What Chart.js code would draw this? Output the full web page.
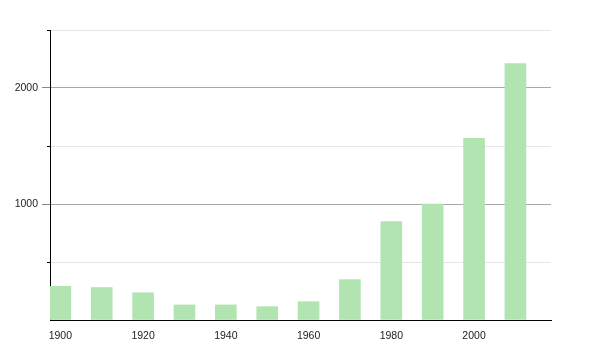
<!DOCTYPE html>
<html>
<head>
<meta charset="utf-8">
<script src="https://cdn.jsdelivr.net/npm/chart.js@4/dist/chart.umd.min.js"></script>
<style>
  body { margin: 0; background: #fff; }
  #wrap { width: 600px; height: 350px; }
</style>
</head>
<body>
<div id="wrap"><canvas id="myChart" width="600" height="350"></canvas></div>
<script>
// data
const years = [1900, 1910, 1920, 1930, 1940, 1950, 1960, 1970, 1980, 1990, 2000, 2010]
const values = [290, 280, 235, 130, 130, 115, 158, 348, 848, 1000, 1566, 2210]
const xTickLabels = [1900, 1920, 1940, 1960, 1980, 2000]
const yTickLabels = [1000, 2000]
const yMinorTicks = [500, 1500, 2500]

// short black ticks for the minor gridlines
const minorTicks = {
    id: 'minorTicks',
    afterDraw(chart) {
        const y = chart.scales.y
        const ctx = chart.ctx
        ctx.save()
        ctx.strokeStyle = '#000'
        ctx.lineWidth = 1
        yMinorTicks.forEach(v => {
            const py = Math.round(y.getPixelForValue(v)) + 0.5
            ctx.beginPath()
            ctx.moveTo(y.right - 3, py)
            ctx.lineTo(y.right, py)
            ctx.stroke()
        })
        ctx.restore()
    }
}

const ctx = document.getElementById('myChart').getContext('2d')
const chart = new Chart(ctx, {
    type: 'bar',
    data: {
        datasets: [{
            data: years.map((yr, i) => ({ x: yr, y: values[i] })),
            backgroundColor: 'rgb(178, 228, 178)',
            borderWidth: 0,
            barThickness: 21
        }]
    },
    options: {
        responsive: false,
        animation: false,
        layout: { padding: { top: 30, right: 49, left: 0, bottom: 0 } },
        plugins: { legend: { display: false }, tooltip: { enabled: false } },
        scales: {
            x: {
                type: 'linear',
                offset: false,
                min: 1897.5,
                max: 2018.6,
                afterBuildTicks: scale => { scale.ticks = xTickLabels.map(v => ({ value: v })) },
                afterFit: scale => { scale.height = 30 },
                grid: { display: false, offset: false },
                border: { display: true, color: '#000', width: 1 },
                ticks: {
                    color: '#222',
                    font: { family: 'Liberation Sans', size: 10.5 },
                    padding: 2,
                    maxRotation: 0,
                    callback: v => String(v)
                }
            },
            y: {
                min: 0,
                max: 2500,
                afterFit: scale => { scale.width = 50 },
                grid: {
                    color: c => (c.tick && yTickLabels.includes(c.tick.value)) ? '#a8a8a8' : '#e6e6e6',
                    tickColor: c => (c.tick && yTickLabels.includes(c.tick.value)) ? '#888' : 'rgba(0,0,0,0)',
                    tickLength: 8
                },
                border: { display: true, color: '#000', width: 1 },
                ticks: {
                    stepSize: 500,
                    color: '#222',
                    padding: 4,
                    font: { family: 'Liberation Sans', size: 10.5 },
                    callback: v => yTickLabels.includes(v) ? String(v) : ''
                }
            }
        }
    },
    plugins: [minorTicks]
})
</script>
</body>
</html>
